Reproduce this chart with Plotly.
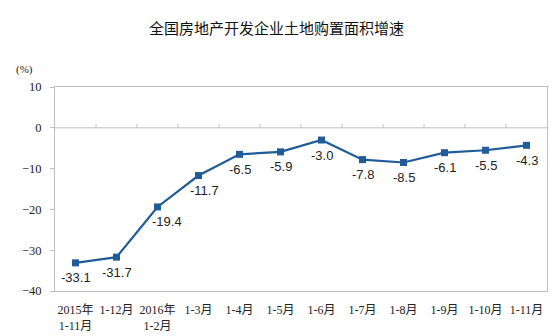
import plotly.graph_objects as go

categories = ["2015年<br>1-11月", "1-12月", "2016年<br>1-2月", "1-3月", "1-4月", "1-5月",
              "1-6月", "1-7月", "1-8月", "1-9月", "1-10月", "1-11月"]
values = [-33.1, -31.7, -19.4, -11.7, -6.5, -5.9, -3.0, -7.8, -8.5, -6.1, -5.5, -4.3]
y_ticks = [10, 0, -10, -20, -30, -40]

title_text = "全国房地产开发企业土地购置面积增速"
unit_text = "(%)"

line_color = "#1F5C99"
grid_color = "#BFBFBF"

x_idx = list(range(len(categories)))
# small horizontal nudges so labels clear the steep line segments
label_xshift = {2: 9, 3: 6}

fig = go.Figure()
fig.add_trace(go.Scatter(
    x=x_idx, y=values,
    mode="lines+markers",
    line=dict(color=line_color, width=2.2),
    marker=dict(symbol="square", size=7, color=line_color),
    hoverinfo="skip",
))

shapes = [dict(type="line", xref="x", yref="y", x0=-0.5, x1=len(categories) - 0.5, y0=0, y1=0,
               line=dict(color=grid_color, width=1), layer="below")]
for i in range(len(categories) - 1):
    shapes.append(dict(type="line", xref="x", yref="y", ysizemode="pixel", yanchor=0,
                       x0=i + 0.5, x1=i + 0.5, y0=0, y1=4,
                       line=dict(color=grid_color, width=1), layer="below"))

annotations = [
    dict(text=f"{v:.1f}", x=i, y=v, xref="x", yref="y", showarrow=False,
         xanchor="center", yanchor="middle", yshift=-15, xshift=label_xshift.get(i, 0),
         font=dict(family="Liberation Sans, Arial", size=13, color="#222222"))
    for i, v in zip(x_idx, values)
]
annotations += [
    dict(text=title_text, xref="paper", yref="paper", x=0.45, y=1.0, yshift=60,
         xanchor="center", yanchor="middle", showarrow=False,
         font=dict(family="Noto Sans CJK SC", size=15, color="#111111")),
    dict(text=unit_text, xref="paper", yref="paper", x=-0.04, y=1.0, yshift=18,
         xanchor="right", yanchor="middle", showarrow=False,
         font=dict(family="Liberation Serif, Noto Sans CJK SC", size=11, color="#222222")),
]

fig.update_layout(
    width=554, height=336,
    margin=dict(l=55, r=7, t=87, b=45),
    paper_bgcolor="white", plot_bgcolor="white",
    showlegend=False,
    shapes=shapes,
    annotations=annotations,
    xaxis=dict(
        range=[-0.5, len(categories) - 0.5],
        tickmode="array", tickvals=x_idx, ticktext=categories,
        showgrid=False, zeroline=False, automargin=False,
        showline=True, linecolor=grid_color, linewidth=1, mirror=True,
        ticks="", ticklabelstandoff=8,
        tickfont=dict(family="Liberation Serif, Noto Sans CJK SC", size=12, color="#222222"),
    ),
    yaxis=dict(
        range=[-40, 10], tickvals=y_ticks, automargin=False,
        showgrid=False, zeroline=False,
        showline=True, linecolor=grid_color, linewidth=1, mirror=True,
        ticks="outside", ticklen=4, tickcolor=grid_color, ticklabelstandoff=6,
        tickfont=dict(family="Liberation Serif, Times New Roman", size=12.5, color="#222222"),
    ),
)

fig.write_html("out.html")
